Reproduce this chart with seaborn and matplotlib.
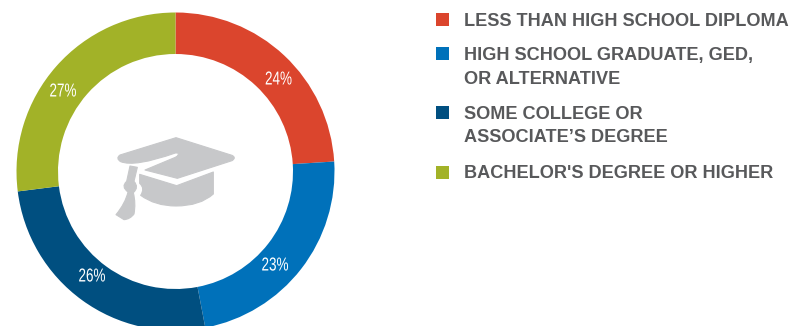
import matplotlib
matplotlib.use("Agg")
import matplotlib.pyplot as plt
import seaborn as sns
from matplotlib.patches import PathPatch, Rectangle
from matplotlib.path import Path
from matplotlib.patheffects import AbstractPathEffect
from matplotlib.transforms import Affine2D

# Educational attainment shares, clockwise from twelve o'clock
categories = [
    "LESS THAN HIGH SCHOOL DIPLOMA",
    "HIGH SCHOOL GRADUATE, GED,\nOR ALTERNATIVE",
    "SOME COLLEGE OR\nASSOCIATE\u2019S DEGREE",
    "BACHELOR'S DEGREE OR HIGHER",
]
shares = [24, 23, 26, 27]
share_labels = ["24%", "23%", "26%", "27%"]
colors = sns.color_palette(["#DB452D", "#0071BA", "#004F80", "#A2B228"])

GREY_TEXT = "#58595B"
CAP_GREY = "#C7C8CA"
WIDTH, HEIGHT = 789, 326

sns.set_theme(style="white")
plt.rcParams["font.family"] = ["Liberation Sans", "DejaVu Sans"]

fig = plt.figure(figsize=(WIDTH / 100, HEIGHT / 100), dpi=100)
ax = fig.add_axes([0, 0, 1, 1])


class CondensedGlyphs(AbstractPathEffect):
    """Squeeze a text's glyphs horizontally about a fixed pixel column."""

    def __init__(self, factor, column):
        super().__init__()
        self.squeeze = Affine2D().translate(-column, 0).scale(factor, 1).translate(column, 0)

    def draw_path(self, renderer, gc, tpath, affine, rgbFace=None):
        renderer.draw_path(gc, tpath, affine + self.squeeze, rgbFace)


def flip(y):
    """Convert a distance from the top edge into the upward axis scale."""
    return HEIGHT - y


# Donut ring
cx, cy, outer, inner = 175.5, 171.5, 159, 117.5
ax.pie(
    shares,
    colors=colors,
    startangle=90,
    counterclock=False,
    center=(cx, flip(cy)),
    radius=outer,
    frame=True,
    wedgeprops={"width": outer - inner, "linewidth": 0},
)
ax.set_xlim(0, WIDTH)
ax.set_ylim(0, HEIGHT)
ax.set_aspect("equal")
ax.axis("off")

# Percentage labels sitting on the ring, in a condensed cut
label_x = [278.5, 275, 92, 63]
label_y = [80, 266, 277, 92]
for text, x, y in zip(share_labels, label_x, label_y):
    ax.text(x, flip(y), text, color="white", fontsize=13.5, ha="center", va="center",
            path_effects=[CondensedGlyphs(0.72, x)])


def cap_part(*segments):
    """Draw one piece of the mortarboard icon from lines and quadratic curves."""
    verts, codes = [], []
    for i, points in enumerate(segments):
        xy = [(100 + px / 3, flip(120 + py / 3)) for px, py in points]
        if i == 0:
            verts += xy
            codes += [Path.MOVETO] + [Path.LINETO] * (len(xy) - 1)
        elif len(xy) == 2:
            verts += xy
            codes += [Path.CURVE3, Path.CURVE3]
        else:
            verts += xy
            codes += [Path.LINETO] * len(xy)
    verts.append(verts[0])
    codes.append(Path.CLOSEPOLY)
    ax.add_patch(PathPatch(Path(verts, codes), facecolor=CAP_GREY, edgecolor=CAP_GREY,
                           linewidth=0.8, joinstyle="round", zorder=3))


# Mortarboard icon in the middle of the ring
cap_part([(228, 53), (396, 106)], [(410, 113), (396, 122)],
         [(232, 175), (135, 150), (226, 112)], [(238, 106), (234, 99)], [(226, 99)],
         [(104, 142), (62, 125)], [(46, 115), (60, 105)])
cap_part([(119, 163), (230, 197), (340, 156), (340, 222)], [(300, 258), (228, 258)],
         [(165, 258), (122, 226)], [(136, 205), (119, 190)])
cap_part([(90, 138), (112, 142), (102, 184)], [(118, 202), (100, 218)],
         [(108, 250), (102, 282)], [(90, 298), (72, 299)], [(48, 284)],
         [(76, 250), (84, 216)], [(62, 200), (80, 184)])

# Legend swatches and labels
swatch_y = [13.3, 47.3, 106, 165.5]
text_y = [21.5, 67.5, 126, 173.5]
for name, color, sy, ty in zip(categories, colors, swatch_y, text_y):
    ax.add_patch(Rectangle((436.5, flip(sy + 13)), 13, 13, facecolor=color, linewidth=0))
    ax.text(464, flip(ty), name, color=GREY_TEXT, fontsize=13.05, fontweight="bold",
            ha="left", va="center", linespacing=1.5)

fig.savefig("out.png", dpi=100)
